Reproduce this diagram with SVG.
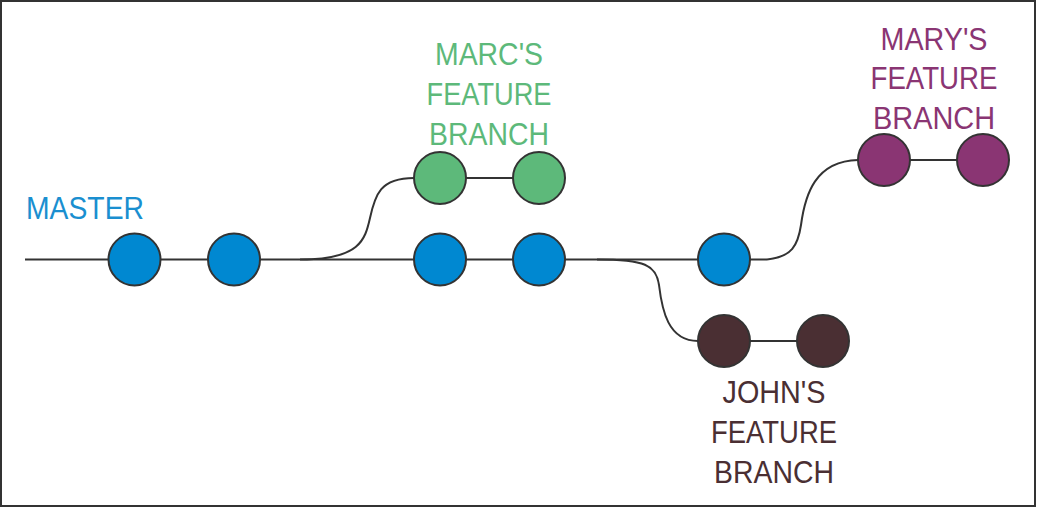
<svg xmlns="http://www.w3.org/2000/svg" width="1037" height="508" viewBox="0 0 1037 508">
<style>
.c{stroke:#333;stroke-width:2}
.m{fill:#0088d1}
.g{fill:#5db97a}
.p{fill:#8a3573}
.j{fill:#4a2f33}
.l{fill:none;stroke:#333;stroke-width:2}
text{font-family:"Liberation Sans",Arial,sans-serif;font-size:32px;text-anchor:middle}
</style>
<rect x="1" y="1" width="1034" height="505" fill="#fff" stroke="#333" stroke-width="2"/>
<g id="connectors">
<path class="l" d="M25,259.5 H767"/>
<path class="l" d="M300,259.5 C360,259.5 365,240 370,218 C375,195 380,178 414,178"/>
<path class="l" d="M440,178 H539"/>
<path class="l" d="M597,259.5 C645,259.5 656,265 659,285 C662,310 668,341 698,341"/>
<path class="l" d="M724,341 H823"/>
<path class="l" d="M767,259.5 C792,257 798,245 801,225 C805,195 815,161 858,160"/>
<path class="l" d="M884,160 H983"/>
</g>
<g id="master">
<text x="85" y="219" fill="#1a8fd0" textLength="118" lengthAdjust="spacingAndGlyphs">MASTER</text>
</g>
<g id="m1"><circle class="c m" cx="134.5" cy="259.5" r="26"/></g>
<g id="m2"><circle class="c m" cx="234" cy="259.5" r="26"/></g>
<g id="m3"><circle class="c m" cx="440" cy="259.5" r="26"/></g>
<g id="m4"><circle class="c m" cx="539" cy="259.5" r="26"/></g>
<g id="m5"><circle class="c m" cx="724" cy="259.5" r="26"/></g>
<g id="marc-label" fill="#5db97a">
<text x="489" y="65" textLength="108" lengthAdjust="spacingAndGlyphs">MARC'S</text>
<text x="489" y="105" textLength="125" lengthAdjust="spacingAndGlyphs">FEATURE</text>
<text x="489" y="145" textLength="120" lengthAdjust="spacingAndGlyphs">BRANCH</text>
</g>
<g id="g1"><circle class="c g" cx="440" cy="178" r="26"/></g>
<g id="g2"><circle class="c g" cx="539" cy="178" r="26"/></g>
<g id="mary-label" fill="#8a3573">
<text x="934" y="50" textLength="107" lengthAdjust="spacingAndGlyphs">MARY'S</text>
<text x="934" y="89" textLength="127" lengthAdjust="spacingAndGlyphs">FEATURE</text>
<text x="934" y="129" textLength="122" lengthAdjust="spacingAndGlyphs">BRANCH</text>
</g>
<g id="p1"><circle class="c p" cx="884" cy="160" r="26"/></g>
<g id="p2"><circle class="c p" cx="983" cy="160" r="26"/></g>
<g id="j1"><circle class="c j" cx="724" cy="341" r="26"/></g>
<g id="j2"><circle class="c j" cx="823" cy="341" r="26"/></g>
<g id="john-label" fill="#4a2f33">
<text x="774" y="403" textLength="103" lengthAdjust="spacingAndGlyphs">JOHN'S</text>
<text x="774" y="443" textLength="126" lengthAdjust="spacingAndGlyphs">FEATURE</text>
<text x="774" y="483" textLength="120" lengthAdjust="spacingAndGlyphs">BRANCH</text>
</g>
</svg>
